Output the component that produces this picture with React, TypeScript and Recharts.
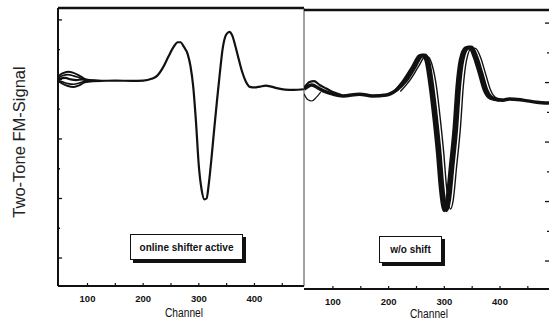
import React from "react"
import { Line, LineChart, XAxis, YAxis } from "recharts"

// left panel: online shifter active
const leftChannels = [47, 60, 70, 80, 90, 100, 120, 150, 180, 200, 215, 225, 235, 245, 255, 262, 267, 273, 280, 285, 290, 295, 300, 305, 310, 314, 318, 323, 328, 333, 338, 343, 349, 355, 360, 366, 372, 378, 384, 392, 400, 410, 420, 430, 440, 455, 470, 489]
const leftSignal = [6.0, 6.05, 6.0, 5.98, 6.0, 5.96, 5.95, 5.96, 5.95, 5.96, 6.02, 6.12, 6.38, 6.75, 7.1, 7.25, 7.25, 7.1, 6.85, 6.45, 5.75, 4.55, 3.1, 2.3, 1.97, 2.0, 2.5, 3.4, 4.4, 5.35, 6.25, 7.05, 7.5, 7.6, 7.48, 7.1, 6.66, 6.25, 5.95, 5.75, 5.73, 5.76, 5.79, 5.76, 5.71, 5.66, 5.65, 5.67]
// spread of the overlaid traces near the start
const leftStartChannels = [47, 55, 65, 75, 85, 95, 110, 125]
const leftUpperSignal = [6.1, 6.2, 6.26, 6.22, 6.13, 6.02, 5.97, 5.95]
const leftUpperMidSignal = [6.05, 6.12, 6.16, 6.12, 6.06, 6.0, 5.96, 5.95]
const leftLowerMidSignal = [5.97, 5.92, 5.86, 5.84, 5.88, 5.93, 5.95, 5.95]
const leftLowerSignal = [5.95, 5.86, 5.78, 5.75, 5.8, 5.9, 5.94, 5.95]

// right panel: w/o shift
const rightChannels = [48, 62, 75, 84, 100, 118, 148, 171, 196, 214, 232, 247, 259, 265, 271, 279, 286, 292, 297, 304, 309, 315, 322, 327, 333, 342, 349, 358, 367, 376, 387, 405, 417, 441, 466, 488]
const rightSignal = [5.78, 5.92, 5.8, 5.71, 5.61, 5.55, 5.61, 5.55, 5.58, 5.75, 6.08, 6.52, 6.89, 6.92, 6.76, 5.85, 4.74, 3.63, 2.49, 1.7, 2.05, 3.16, 4.5, 5.85, 6.76, 7.16, 7.19, 6.86, 6.32, 5.75, 5.48, 5.41, 5.45, 5.41, 5.34, 5.31]
const rightEarlyChannels = [214, 228, 243, 255, 261, 267, 275, 282, 288, 293, 300, 305, 311, 318, 323, 329, 338, 345, 354, 363, 372, 383, 400]
const rightEarlySignal = [5.75, 6.08, 6.52, 6.89, 6.92, 6.76, 5.85, 4.74, 3.63, 2.49, 1.7, 2.05, 3.16, 4.5, 5.85, 6.76, 7.16, 7.19, 6.86, 6.32, 5.75, 5.48, 5.41]
const rightLateChannels = [221, 239, 254, 266, 272, 278, 286, 293, 299, 304, 311, 316, 322, 329, 334, 340, 349, 356, 365, 374, 383, 394, 412]
const rightLateSignal = [5.7, 6.1, 6.55, 6.88, 6.85, 6.6, 5.85, 4.74, 3.63, 2.49, 1.75, 2.05, 3.16, 4.5, 5.85, 6.76, 7.16, 7.15, 6.85, 6.3, 5.75, 5.48, 5.42]
const rightLoopChannels = [48, 55, 62, 70, 78]
const rightLoopSignal = [5.62, 5.42, 5.38, 5.5, 5.68]
const rightUpperChannels = [48, 58, 66, 76, 88, 100, 115]
const rightUpperSignal = [5.82, 6.02, 6.05, 5.92, 5.8, 5.68, 5.58]

const channelTicks = [100, 150, 200, 250, 300, 350, 400, 450]
const signalTicks = [0, 1, 2, 3, 4, 5, 6, 7, 8]
const panelLabels = ["online shifter active", "w/o shift"]
const yLabel = "Two-Tone FM-Signal"
const xLabel = "Channel"

const ink = "#111"
const font = "'Liberation Sans', Arial, Helvetica, sans-serif"

const toPoints = (channels: number[], values: number[]) =>
  channels.map((channel, i) => ({ channel, signal: values[i] }))

const ChannelTick = ({ x, y, payload }: any) => (
  <g>
    <line x1={x} y1={y} x2={x} y2={y - 3} stroke={ink} strokeWidth={1.2} />
    {payload.value % 100 === 0 && (
      <text x={x} y={y + 16} textAnchor="middle" fontSize={9.5} fontWeight="bold" fill={ink} fontFamily={font}>
        {payload.value}
      </text>
    )}
  </g>
)

const signalTick = (dir: number) => ({ x, y, payload }: any) => {
  const len = payload.value % 2 === 0 ? 4 : 2
  return <line x1={x} y1={y} x2={x + dir * len} y2={y} stroke={ink} strokeWidth={1.3} />
}

const boxStyle: React.CSSProperties = {
  position: "absolute",
  border: `1px solid ${ink}`,
  background: "#fff",
  boxShadow: `3px 3px 0 ${ink}`,
  fontFamily: font,
  fontWeight: "bold",
  fontSize: 10,
  color: ink,
  display: "flex",
  alignItems: "center",
  justifyContent: "center",
  boxSizing: "border-box",
}

const channelLabelStyle: React.CSSProperties = {
  position: "absolute",
  width: 80,
  textAlign: "center",
  fontFamily: font,
  fontSize: 12,
  lineHeight: "14px",
  color: ink,
  transform: "scaleX(0.85)",
}

export default function App() {
  return (
    <div style={{ position: "absolute", left: 0, top: 0, width: 549, height: 333, background: "#fff", overflow: "hidden" }}>
      <div style={{ position: "absolute", left: 0, top: 0 }}>
        <LineChart width={305} height={333} margin={{ top: 7, right: 0, bottom: 0, left: 57 }}>
          <XAxis
            type="number"
            dataKey="channel"
            domain={[47, 489]}
            allowDataOverflow
            ticks={channelTicks}
            interval={0}
            tick={<ChannelTick />}
            tickLine={false}
            tickSize={0}
            tickMargin={0}
            height={47}
            axisLine={{ stroke: ink, strokeWidth: 2 }}
          />
          <XAxis xAxisId="top" orientation="top" type="number" domain={[47, 489]} tick={false} tickLine={false} height={1} axisLine={{ stroke: ink, strokeWidth: 2.5 }} />
          <YAxis
            type="number"
            domain={[-0.94, 8.4]}
            allowDataOverflow
            ticks={signalTicks}
            interval={0}
            tick={signalTick(1)}
            tickLine={false}
            tickSize={0}
            tickMargin={0}
            width={1}
            axisLine={{ stroke: ink, strokeWidth: 2 }}
          />
          <YAxis yAxisId="divider" orientation="right" type="number" domain={[-0.94, 8.4]} tick={false} tickLine={false} width={1} axisLine={{ stroke: "#444", strokeWidth: 1 }} />
          <Line data={toPoints(leftStartChannels, leftUpperSignal)} dataKey="signal" type="monotone" stroke={ink} strokeWidth={2} dot={false} isAnimationActive={false} />
          <Line data={toPoints(leftStartChannels, leftUpperMidSignal)} dataKey="signal" type="monotone" stroke={ink} strokeWidth={1.6} dot={false} isAnimationActive={false} />
          <Line data={toPoints(leftStartChannels, leftLowerMidSignal)} dataKey="signal" type="monotone" stroke={ink} strokeWidth={1.6} dot={false} isAnimationActive={false} />
          <Line data={toPoints(leftStartChannels, leftLowerSignal)} dataKey="signal" type="monotone" stroke={ink} strokeWidth={2} dot={false} isAnimationActive={false} />
          <Line data={toPoints(leftChannels, leftSignal)} dataKey="signal" type="monotone" stroke={ink} strokeWidth={2.2} dot={false} isAnimationActive={false} />
        </LineChart>
      </div>

      <div style={{ position: "absolute", left: 304, top: 0 }}>
        <LineChart width={246} height={333} margin={{ top: 9, right: 0, bottom: 0, left: 0 }}>
          <XAxis
            type="number"
            dataKey="channel"
            domain={[48, 488]}
            allowDataOverflow
            ticks={channelTicks}
            interval={0}
            tick={<ChannelTick />}
            tickLine={false}
            tickSize={0}
            tickMargin={0}
            height={44}
            axisLine={{ stroke: ink, strokeWidth: 2 }}
          />
          <XAxis xAxisId="top" orientation="top" type="number" domain={[48, 488]} tick={false} tickLine={false} height={1} axisLine={{ stroke: ink, strokeWidth: 2.5 }} />
          <YAxis
            orientation="right"
            type="number"
            domain={[-0.94, 8.44]}
            allowDataOverflow
            ticks={signalTicks}
            interval={0}
            tick={signalTick(-1)}
            tickLine={false}
            tickSize={0}
            tickMargin={0}
            width={1}
            axisLine={false}
          />
          <Line data={toPoints(rightLoopChannels, rightLoopSignal)} dataKey="signal" type="monotone" stroke={ink} strokeWidth={1.2} dot={false} isAnimationActive={false} />
          <Line data={toPoints(rightUpperChannels, rightUpperSignal)} dataKey="signal" type="monotone" stroke={ink} strokeWidth={2.2} dot={false} isAnimationActive={false} />
          <Line data={toPoints(rightEarlyChannels, rightEarlySignal)} dataKey="signal" type="monotone" stroke={ink} strokeWidth={3.5} dot={false} isAnimationActive={false} />
          <Line data={toPoints(rightLateChannels, rightLateSignal)} dataKey="signal" type="monotone" stroke={ink} strokeWidth={1.4} dot={false} isAnimationActive={false} />
          <Line data={toPoints(rightChannels, rightSignal)} dataKey="signal" type="monotone" stroke={ink} strokeWidth={3.5} dot={false} isAnimationActive={false} />
        </LineChart>
      </div>

      <div style={{ ...boxStyle, left: 130, top: 234, width: 113, height: 26 }}>{panelLabels[0]}</div>
      <div style={{ ...boxStyle, left: 379, top: 236, width: 63, height: 27 }}>{panelLabels[1]}</div>

      <div
        style={{
          position: "absolute",
          left: 18.5 - 100,
          top: 141.5 - 10,
          width: 200,
          height: 20,
          lineHeight: "20px",
          textAlign: "center",
          transform: "rotate(-90deg)",
          fontFamily: font,
          fontSize: 16.5,
          color: "#222",
          whiteSpace: "nowrap",
        }}
      >
        {yLabel}
      </div>

      <div style={{ ...channelLabelStyle, left: 184 - 40, top: 306 }}>{xLabel}</div>
      <div style={{ ...channelLabelStyle, left: 429 - 40, top: 307 }}>{xLabel}</div>
    </div>
  )
}
